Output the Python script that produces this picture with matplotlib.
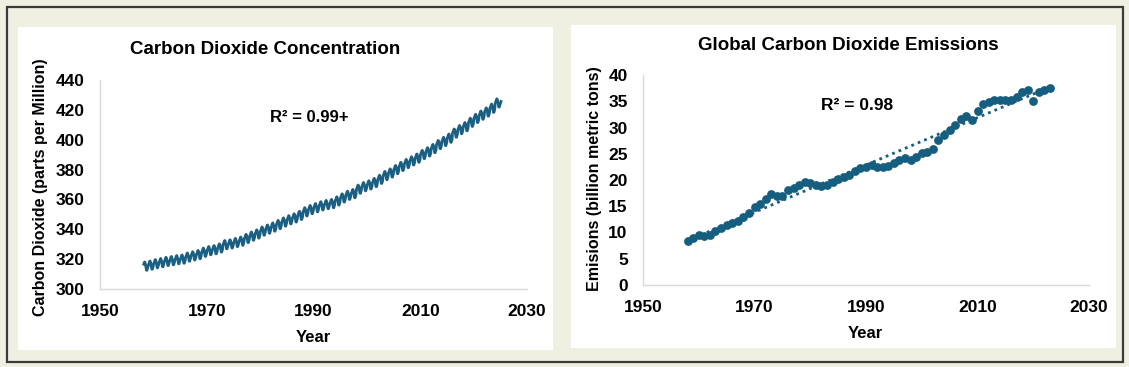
import numpy as np
import matplotlib
matplotlib.use("Agg")
import matplotlib.pyplot as plt
from matplotlib.patches import Rectangle

plt.rcParams['font.family'] = ['Liberation Sans', 'DejaVu Sans']
plt.rcParams['font.weight'] = 'bold'

# Mauna Loa annual mean CO2 (ppm), 1958 - 2025
co2_years = list(range(1958, 2026))
co2_annual = [315.3, 315.98, 316.91, 317.64, 318.45, 318.99, 319.62, 320.04, 321.37, 322.18,
              323.05, 324.62, 325.68, 326.32, 327.46, 329.68, 330.19, 331.13, 332.03, 333.84,
              335.41, 336.84, 338.76, 340.12, 341.48, 343.15, 344.87, 346.35, 347.61, 349.31,
              351.69, 353.20, 354.45, 355.70, 356.54, 357.21, 358.96, 360.97, 362.74, 363.88,
              366.84, 368.54, 369.71, 371.32, 373.45, 375.98, 377.70, 379.98, 382.09, 384.02,
              385.83, 387.64, 390.10, 391.85, 394.06, 396.74, 398.81, 401.01, 404.41, 406.76,
              408.72, 411.66, 414.24, 416.45, 418.56, 421.08, 424.61, 425.0]
# seasonal swing by month (ppm, Jan..Dec)
co2_season = [-0.1, 0.6, 1.3, 2.4, 2.8, 2.1, 0.7, -1.2, -2.7, -2.8, -1.8, -0.8]
co2_first_month = 3   # record starts March 1958
co2_last_month = 2    # ends Feb 2025

# global CO2 emissions (billion metric tons)
em_years = list(range(1958, 2024))
emissions = [8.4, 8.9, 9.5, 9.3, 9.6, 10.2, 10.8, 11.4, 11.9, 12.2,
             13.0, 13.7, 14.9, 15.4, 16.3, 17.3, 17.0, 16.9, 18.1, 18.5,
             19.1, 19.6, 19.4, 19.0, 18.8, 19.0, 19.6, 20.2, 20.5, 21.0,
             21.8, 22.2, 22.5, 22.9, 22.4, 22.5, 22.7, 23.3, 23.8, 24.1,
             23.9, 24.4, 25.2, 25.4, 25.9, 27.6, 28.6, 29.5, 30.5, 31.6,
             32.2, 31.4, 33.2, 34.4, 34.9, 35.3, 35.3, 35.3, 35.3, 35.9,
             36.7, 37.1, 35.1, 36.8, 37.1, 37.6]

# build monthly series
co2_t = []
co2_v = []
for i, yr in enumerate(co2_years):
    for m in range(12):
        if yr == co2_years[0] and m + 1 < co2_first_month:
            continue
        if yr == co2_years[-1] and m + 1 > co2_last_month:
            continue
        co2_t.append(yr + (m + 0.5) / 12)
        co2_v.append(co2_annual[i] + co2_season[m])

W, H = 1129, 367
fig = plt.figure(figsize=(W / 100, H / 100), dpi=100)
fig.patch.set_facecolor('#eff0e1')

def fx(px):
    return px / W

def fy(py):
    return 1 - py / H

# outer frame and white panels (behind the axes)
fig.patches.append(Rectangle((fx(7), fy(362)), fx(1116), 355 / H, transform=fig.transFigure,
                             fill=False, edgecolor='#3a3a3a', linewidth=1.6, zorder=-2))
fig.patches.append(Rectangle((fx(18), fy(350)), fx(535), 323 / H, transform=fig.transFigure,
                             facecolor='white', edgecolor='none', zorder=-2))
fig.patches.append(Rectangle((fx(571), fy(348)), fx(545), 323 / H, transform=fig.transFigure,
                             facecolor='white', edgecolor='none', zorder=-2))

line_col = '#1b5f82'
dot_col = '#165e7f'
axis_col = '#d9d9d9'

def style(ax):
    ax.set_facecolor('none')
    for s in ['top', 'right']:
        ax.spines[s].set_visible(False)
    for s in ['left', 'bottom']:
        ax.spines[s].set_color(axis_col)
        ax.spines[s].set_linewidth(1.0)
    ax.tick_params(length=0, labelsize=12.5, pad=11)
    ax.set_xlim(1950, 2030)
    ax.set_xticks([1950, 1970, 1990, 2010, 2030])

# left chart
ax1 = fig.add_axes([fx(100), fy(289), fx(427), 209 / H])
style(ax1)
ax1.plot(co2_t, co2_v, color=line_col, linewidth=2.0)
ax1.set_ylim(300, 440)
ax1.set_yticks(range(300, 441, 20))
ax1.text(1989.2, 415, 'R² = 0.99+', ha='center', va='center', fontsize=12, fontweight='bold')
fig.text(fx(265), fy(50), 'Carbon Dioxide Concentration', ha='center', va='center',
         fontsize=13.5, fontweight='bold')
fig.text(fx(313), fy(338), 'Year', ha='center', va='center', fontsize=12, fontweight='bold')
fig.text(fx(41), fy(187), 'Carbon Dioxide (parts per Million)', ha='center', va='center',
         rotation=90, fontsize=11.5, fontweight='bold')

# right chart
ax2 = fig.add_axes([fx(643), fy(285), fx(446), 210 / H])
style(ax2)
coef = np.polyfit(em_years, emissions, 1)
ax2.plot(em_years, np.polyval(coef, em_years), linestyle=(0, (1, 1.5)), color=dot_col,
         linewidth=2.0, zorder=2)
ax2.scatter(em_years, emissions, s=40, color=dot_col, zorder=3, linewidths=0)
ax2.set_ylim(0, 40)
ax2.set_yticks(range(0, 41, 5))
ax2.text(1988.4, 34.2, 'R² = 0.98', ha='center', va='center', fontsize=12.5, fontweight='bold')
fig.text(fx(848), fy(45), 'Global Carbon Dioxide Emissions', ha='center', va='center',
         fontsize=13.5, fontweight='bold')
fig.text(fx(865), fy(333), 'Year', ha='center', va='center', fontsize=12, fontweight='bold')
fig.text(fx(594), fy(179), 'Emisions (billion metric tons)', ha='center', va='center',
         rotation=90, fontsize=11.5, fontweight='bold')

fig.savefig('out.png', dpi=100, facecolor=fig.get_facecolor())
